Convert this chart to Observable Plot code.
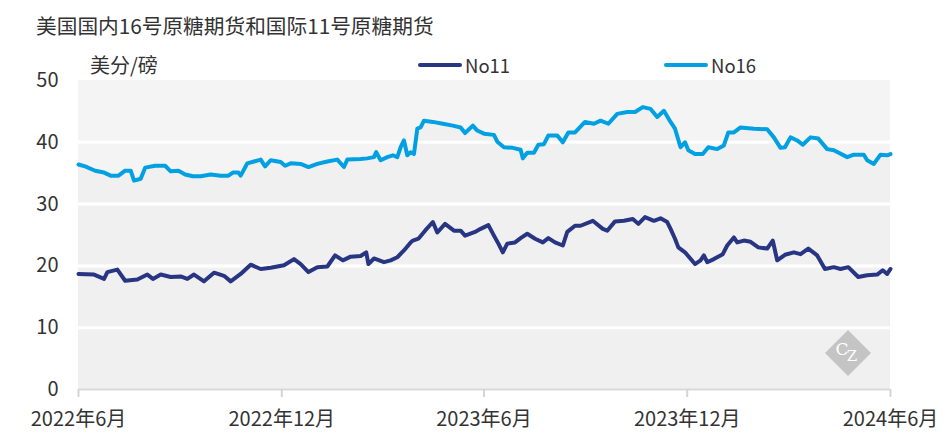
<!DOCTYPE html>
<html>
<head>
<meta charset="utf-8">
<script src="https://cdn.jsdelivr.net/npm/d3@7"></script>
<script src="https://cdn.jsdelivr.net/npm/@observablehq/plot@0.6"></script>
<style>
  body { margin: 0; background: #fff; }
  #wrap { position: relative; width: 948px; height: 443px; font-family: "Noto Sans CJK SC", "Open Sans", sans-serif; color: #333; }
  #title { position: absolute; left: 36px; top: 12px; font-size: 20.7px; line-height: 26px; white-space: nowrap; }
  #chart { position: absolute; left: 0; top: 44px; }
  #ylab { position: absolute; left: 90px; top: 52px; font-size: 20px; line-height: 26px; }
  .leg { position: absolute; top: 53px; font-size: 18.5px; line-height: 24px; display: flex; align-items: center; }
  .leg span.sw { display: inline-block; width: 44px; height: 4px; border-radius: 2px; margin-right: 3px; }
  #wm { position: absolute; left: 823px; top: 328px; }
</style>
</head>
<body>
<div id="wrap">
  <div id="title">美国国内16号原糖期货和国际11号原糖期货</div>
  <div id="chart"></div>
  <div id="ylab">美分/磅</div>
  <div class="leg" style="left:418px"><span class="sw" style="background:#283583"></span>No11</div>
  <div class="leg" style="left:664px"><span class="sw" style="background:#00a0e2"></span>No16</div>
  <svg id="wm" width="50" height="50" viewBox="0 0 50 50">
    <polygon points="25,2 48,25 25,48 2,25" fill="#c4c4c4"/>
    <text x="19" y="27" font-family="DejaVu Serif, serif" font-size="17" fill="#fff" text-anchor="middle">C</text>
    <text x="29" y="33" font-family="DejaVu Serif, serif" font-size="15" fill="#fff" text-anchor="middle">Z</text>
  </svg>
</div>
<script>
// Days since 2022-06-01 and values (US cents per pound)
const no16Days = [0,6,15,23,29,36,42,47,50,56,60,69,78,83,90,96,103,110,119,128,135,139,144,146,152,158,164,168,173,182,186,191,200,207,215,224,233,239,242,254,260,266,268,272,278,283,287,290,293,296,299,302,305,308,311,319,328,337,344,348,355,359,365,374,377,383,391,398,400,404,410,414,419,423,431,436,441,447,456,464,470,477,485,494,501,508,515,521,527,533,537,542,546,549,555,562,567,575,581,585,590,596,608,620,626,632,636,641,647,652,659,666,674,680,692,698,707,710,716,722,728,731];
const no16Vals = [36.4,36.1,35.4,35.1,34.6,34.6,35.4,35.4,33.8,34.1,35.9,36.2,36.2,35.3,35.4,34.8,34.5,34.5,34.8,34.6,34.6,35.1,35.1,34.6,36.6,36.9,37.2,36.1,37.1,36.8,36.2,36.6,36.5,36.0,36.5,36.9,37.2,36.0,37.2,37.3,37.4,37.6,38.4,37.1,37.6,37.9,37.6,39.2,40.3,37.9,38.4,38.1,42.2,42.4,43.5,43.3,43.0,42.7,42.4,41.5,42.7,41.9,41.4,41.2,40.1,39.2,39.1,38.8,37.4,38.3,38.3,39.6,39.7,41.1,41.1,40.0,41.6,41.6,43.3,43.0,43.5,43.0,44.6,44.9,44.9,45.7,45.4,44.1,45.1,43.3,42.2,39.2,40.0,38.7,38.1,38.1,39.2,38.9,39.5,41.6,41.6,42.4,42.2,42.1,40.8,39.1,39.2,40.8,40.3,39.6,40.8,40.6,38.9,38.7,37.6,38.0,38.0,37.1,36.5,38.0,37.9,38.1];

const no11Days = [0,14,23,26,35,42,53,62,67,74,83,92,98,104,113,122,131,137,146,155,164,173,185,194,200,207,215,224,231,238,245,254,259,261,266,275,281,287,293,299,301,306,312,319,323,330,338,344,348,357,362,369,374,378,382,386,393,398,404,411,418,423,429,436,440,447,452,463,472,476,483,491,499,504,510,518,524,530,533,537,540,546,555,560,563,566,572,580,584,590,593,599,605,612,620,625,629,636,644,650,657,665,672,680,686,693,702,710,719,724,728,731];
const no11Vals = [18.7,18.6,17.9,19.0,19.4,17.6,17.8,18.6,17.9,18.6,18.2,18.3,17.9,18.6,17.5,18.9,18.4,17.5,18.7,20.2,19.5,19.7,20.1,21.1,20.3,19.0,19.8,19.9,21.7,20.9,21.5,21.6,22.2,20.3,21.2,20.6,20.9,21.4,22.5,23.8,24.1,24.4,25.7,27.1,25.4,26.8,25.7,25.7,24.9,25.5,26.0,26.6,24.9,23.6,22.2,23.6,23.8,24.5,25.2,24.4,23.8,24.5,23.8,23.3,25.5,26.5,26.5,27.3,26.0,25.7,27.2,27.3,27.6,26.8,27.9,27.3,27.7,27.1,26.0,24.4,23.0,22.2,20.3,20.9,21.7,20.6,21.1,21.9,23.3,24.6,23.8,24.1,23.9,23.0,22.8,24.1,20.9,21.8,22.2,21.9,22.8,21.7,19.5,19.8,19.5,19.8,18.2,18.5,18.6,19.3,18.7,19.5];

const tickLabels = ["2022-06-01","2022-12-01","2023-06-01","2023-12-01","2024-06-01"];
const yTicks = [0,10,20,30,40,50];
const gridVals = [10,20,30,40];

const start = new Date(Date.UTC(2022,5,1));
const toDate = d => d3.utcDay.offset(start, d);
const no16 = no16Days.map((d,i) => ({date: toDate(d), v: no16Vals[i]}));
const no11 = no11Days.map((d,i) => ({date: toDate(d), v: no11Vals[i]}));
const ticks = tickLabels.map(s => new Date(s + "T00:00:00Z"));
const x0 = ticks[0], x1 = ticks[ticks.length-1];

const chart = Plot.plot({
  width: 948,
  height: 399,
  marginTop: 36,
  marginBottom: 54,
  marginLeft: 78,
  marginRight: 58,
  style: {fontFamily: '"Noto Sans CJK SC", "Open Sans", sans-serif', fontSize: "20px", color: "#333", background: "transparent"},
  x: {type: "utc", domain: [x0, x1]},
  y: {domain: [0, 50]},
  marks: [
    Plot.rect([0], {x1: () => x0, x2: () => x1, y1: () => 0, y2: () => 50, fill: "#f4f4f4"}),
    Plot.areaY(no16, {x: "date", y: "v", fill: "#f0f0f0"}),
    Plot.ruleY(gridVals, {stroke: "#ffffff", strokeWidth: 3}),
    Plot.ruleY([0], {stroke: "#d9d9d9", strokeWidth: 2}),
    Plot.axisX({ticks: ticks, tickSize: 8, tickPadding: 14, stroke: "#d4d4d4", strokeWidth: 2,
      tickFormat: d => `${d.getUTCFullYear()}年${d.getUTCMonth()+1}月`, label: null, fontSize: 20}),
    Plot.axisY({ticks: yTicks, tickSize: 0, tickPadding: 20, label: null, fontSize: 20}),
    Plot.line(no16, {x: "date", y: "v", stroke: "#00a0e2", strokeWidth: 4, strokeLinejoin: "round"}),
    Plot.line(no11, {x: "date", y: "v", stroke: "#283583", strokeWidth: 4, strokeLinejoin: "round"})
  ]
});
document.getElementById("chart").appendChild(chart);
</script>
</body>
</html>
